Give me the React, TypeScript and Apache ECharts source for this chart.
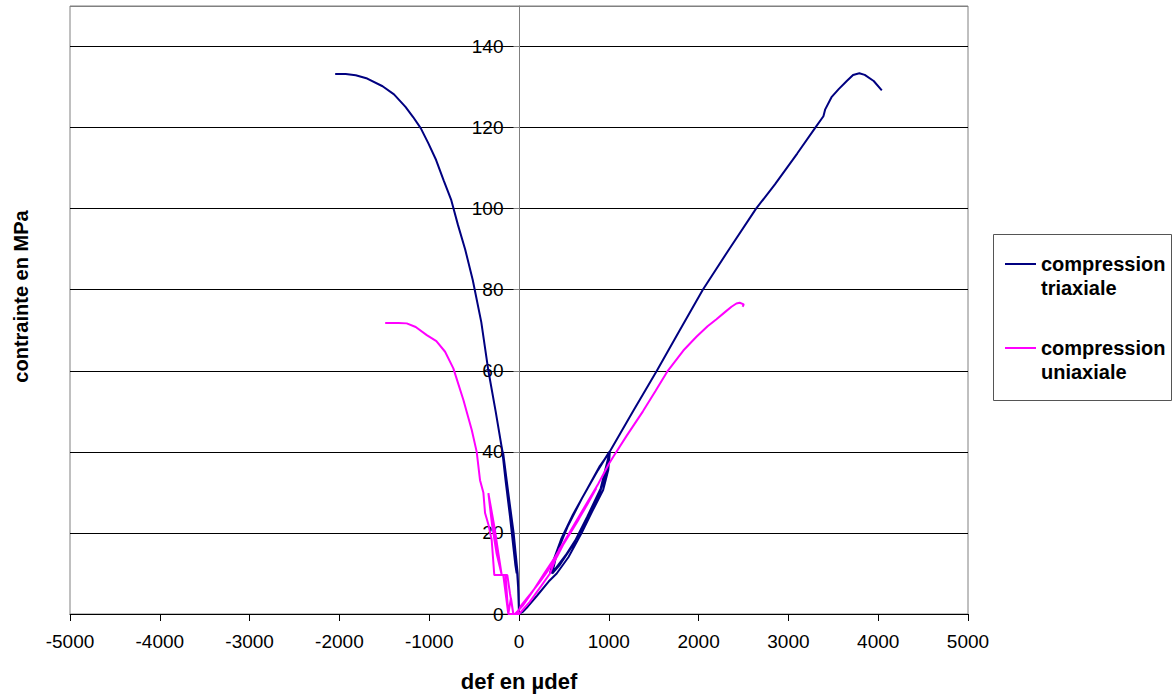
import React, { useEffect, useRef } from "react";
import * as echarts from "echarts";

const FONT = '"Liberation Sans", Arial, sans-serif';

// Compression triaxiale – lateral (negative) strain branch
const triaxLeft: number[][] = [
  [0, 0], [-5, 5], [-15, 10], [-60, 20], [-120, 30], [-178, 40],
  [-140, 32], [-90, 22], [-40, 12], [-26, 10],
  [-60, 18], [-110, 27], [-185, 40],
  [-150, 33], [-100, 24], [-50, 14], [-20, 10], [-5, 5], [0, 0],
  [-15, 10], [-70, 20], [-130, 30], [-181, 39.6],
  [-260, 50], [-341, 60], [-420, 72], [-515, 82.4], [-600, 90], [-680, 96],
  [-754, 102.1], [-839, 107], [-923, 112], [-1009, 116.1], [-1093, 119.8],
  [-1179, 122.6], [-1264, 125.1], [-1392, 128.2], [-1519, 130.2], [-1690, 132.1],
  [-1818, 132.9], [-1930, 133.2], [-2047, 133.2],
];

// Compression triaxiale – axial (positive) strain branch
const triaxRight: number[][] = [
  [0, 0], [40, 0.5], [97, 1.8], [200, 4.5], [330, 8], [420, 10], [550, 14],
  [697, 20], [820, 25.5], [937, 30.6], [994, 35.5], [1012, 40],
  [900, 36.5], [750, 30.5], [600, 24.5], [470, 18.5], [380, 13], [345, 10],
  [400, 11], [520, 14.5], [650, 19], [790, 25], [900, 30], [970, 34.5], [1005, 40],
  [880, 35.5], [700, 28.5], [540, 21.5], [420, 15], [370, 10],
  [450, 12], [600, 17], [760, 24], [910, 31], [1010, 40],
  [1270, 50], [1535, 60], [1790, 70], [2047, 80], [2340, 90], [2640, 100],
  [2850, 106], [3098, 113.6], [3300, 120], [3390, 122.8], [3410, 124.5],
  [3480, 127.5], [3560, 129.5], [3650, 131.5], [3720, 133], [3790, 133.4],
  [3850, 133], [3950, 131.5], [4040, 129.2],
];

// Compression uniaxiale – lateral (negative) strain branch
const uniaxLeft: number[][] = [
  [0, 0], [-63, 0], [-100, 5], [-130, 9.6], [-192, 9.6], [-230, 15], [-270, 21],
  [-341, 29.8], [-300, 22], [-250, 15], [-192, 9.6], [-150, 9.6], [-119, 0], [-63, 0],
  [-90, 4], [-119, 0], [-175, 9.6], [-267, 9.6], [-275, 9.6], [-304, 18.2],
  [-340, 22], [-378, 24.9], [-397, 30], [-434, 33], [-471, 40],
  [-526, 45.4], [-619, 52.8], [-731, 60.6], [-823, 64.7], [-920, 67.3],
  [-1027, 68.8], [-1150, 70.8], [-1250, 71.7], [-1342, 71.8], [-1490, 71.8],
];

// Compression uniaxiale – axial (positive) strain branch
const uniaxRight: number[][] = [
  [-63, 0], [-20, 0], [20, 2], [130, 5], [234, 8], [300, 10], [420, 14],
  [490, 17], [656, 23], [800, 29], [860, 31],
  [760, 27], [600, 21], [450, 16], [345, 10], [250, 7], [120, 3], [0, 0], [-44, 0],
  [40, 2], [150, 5.5], [280, 10], [400, 14], [560, 20], [720, 26], [880, 32],
  [1000, 37], [1050, 38.8], [1200, 44], [1380, 50], [1520, 55], [1657, 60],
  [1830, 65], [1976, 68.4], [2100, 71], [2199, 72.7], [2300, 74.6], [2366, 75.8],
  [2421, 76.6], [2458, 76.8], [2503, 76.4], [2490, 75.8],
];

const seriesNames = ["compression\ntriaxiale", "compression\nuniaxiale"];
const seriesColors = ["#000080", "#FF00FF"];

export default function App() {
  const ref = useRef<HTMLDivElement>(null);

  useEffect(() => {
    if (!ref.current) return;
    const chart = echarts.init(ref.current, undefined, { renderer: "svg" });

    const lineSeries = (name: string, color: string, data: number[][]) => ({
      type: "line",
      name,
      data,
      showSymbol: false,
      symbol: "none",
      smooth: false,
      lineStyle: { color, width: 2 },
      itemStyle: { color },
      z: 3,
    });

    const splitColors = ["#000", "#000", "#000", "#000", "#000", "#000", "#000", "#000", "#808080"];

    chart.setOption({
      animation: false,
      backgroundColor: "#fff",
      textStyle: { fontFamily: FONT },
      grid: {
        left: 70,
        right: 205,
        top: 6,
        bottom: 81,
        show: true,
        borderColor: "#808080",
        borderWidth: 1,
        backgroundColor: "transparent",
      },
      xAxis: {
        type: "value",
        min: -5000,
        max: 5000,
        interval: 1000,
        axisLine: { show: true, onZero: false, lineStyle: { color: "#000", width: 1 } },
        axisTick: { show: true, length: 7, lineStyle: { color: "#000" } },
        axisLabel: {
          fontSize: 19,
          color: "#000",
          margin: 18,
          fontFamily: FONT,
          formatter: (v: number) => String(v),
        },
        splitLine: { show: false },
      },
      yAxis: {
        type: "value",
        min: 0,
        max: 150,
        interval: 20,
        position: "left",
        offset: -449.5,
        axisLine: { show: true, onZero: false, lineStyle: { color: "#808080", width: 1 } },
        axisTick: { show: true, length: 6, lineStyle: { color: "#808080" } },
        axisLabel: {
          fontSize: 19,
          color: "#000",
          margin: 16,
          fontFamily: FONT,
          formatter: (v: number) => (v > 140 ? "" : String(v)),
        },
        splitLine: { show: true, lineStyle: { color: splitColors, width: 1 } },
      },
      series: [
        lineSeries(seriesNames[0], seriesColors[0], triaxLeft),
        lineSeries(seriesNames[0], seriesColors[0], triaxRight),
        lineSeries(seriesNames[1], seriesColors[1], uniaxLeft),
        lineSeries(seriesNames[1], seriesColors[1], uniaxRight),
      ],
      graphic: [
        {
          type: "text",
          x: 21,
          y: 296.5,
          rotation: Math.PI / 2,
          style: {
            text: "contrainte en MPa",
            font: `bold 20px ${FONT}`,
            fill: "#000",
            align: "center",
            verticalAlign: "middle",
          },
        },
        {
          type: "text",
          x: 519,
          y: 681,
          style: {
            text: "def en µdef",
            font: `bold 22px ${FONT}`,
            fill: "#000",
            align: "center",
            verticalAlign: "middle",
          },
        },
        {
          type: "rect",
          shape: { x: 993.5, y: 234.5, width: 178, height: 166 },
          style: { fill: "#fff", stroke: "#555", lineWidth: 1 },
        },
        {
          type: "line",
          shape: { x1: 1005, y1: 264, x2: 1036, y2: 264 },
          style: { stroke: seriesColors[0], lineWidth: 2 },
        },
        {
          type: "text",
          x: 1041,
          y: 252,
          style: {
            text: seriesNames[0],
            font: `bold 20px ${FONT}`,
            fill: "#000",
            lineHeight: 24,
            align: "left",
            verticalAlign: "top",
          },
        },
        {
          type: "line",
          shape: { x1: 1005, y1: 348, x2: 1036, y2: 348 },
          style: { stroke: seriesColors[1], lineWidth: 2 },
        },
        {
          type: "text",
          x: 1041,
          y: 336,
          style: {
            text: seriesNames[1],
            font: `bold 20px ${FONT}`,
            fill: "#000",
            lineHeight: 24,
            align: "left",
            verticalAlign: "top",
          },
        },
      ],
    });

    return () => chart.dispose();
  }, []);

  return (
    <div
      ref={ref}
      style={{ position: "fixed", left: 0, top: 0, width: 1173, height: 695 }}
    />
  );
}
